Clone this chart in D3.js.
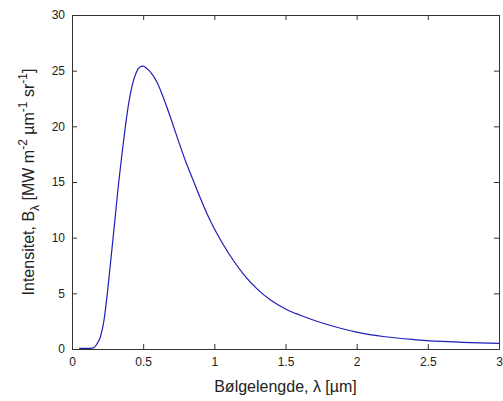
<!DOCTYPE html>
<html>
<head>
<meta charset="utf-8">
<style>
body{margin:0;background:#fff;}
svg{display:block;}
.tick text{font-family:"Liberation Sans",Arial,sans-serif;font-size:12px;fill:#222;}
.axis path,.axis line{stroke:#333;}
.lbl{font-family:"Liberation Sans",Arial,sans-serif;font-size:16px;fill:#222;}
</style>
</head>
<body>
<svg id="svg"></svg>
<script src="https://cdnjs.cloudflare.com/ajax/libs/d3/7.8.5/d3.min.js"></script>
<script>
// wavelength in um
var lambda = [0.05,0.1,0.15,0.175,0.2,0.225,0.25,0.275,0.3,0.325,0.35,0.375,0.4,0.425,0.45,0.475,0.5,0.525,0.55,0.6,0.65,0.7,0.75,0.8,0.85,0.9,0.95,1.0,1.1,1.2,1.3,1.4,1.5,1.6,1.7,1.8,1.9,2.0,2.2,2.4,2.6,2.8,3.0]
// intensity B_lambda [MW m-2 um-1 sr-1]
var intensity = [0.05,0.05,0.1,0.45,1.1,2.6,5.2,8.3,11.4,14.6,17.4,20.0,22.2,23.8,24.8,25.3,25.4,25.2,24.9,23.9,22.3,20.5,18.6,16.8,15.2,13.6,12.1,10.8,8.6,6.8,5.4,4.35,3.6,3.05,2.58,2.18,1.82,1.52,1.1,0.85,0.68,0.57,0.5]
var xTicks = [0,0.5,1,1.5,2,2.5,3]
var yTicks = [0,5,10,15,20,25,30]

var W = 503, H = 401
var margin = {top:15, right:4, bottom:52, left:72}
var width = W - margin.left - margin.right,
    height = H - margin.top - margin.bottom

var svg = d3.select('#svg').attr('width',W).attr('height',H)
var g = svg.append('g').attr('transform','translate('+margin.left+','+margin.top+')')

var x = d3.scaleLinear().domain([0,3]).range([0,width])
var y = d3.scaleLinear().domain([0,30]).range([height,0])

// box with inward ticks on all four sides
g.append('g').attr('class','axis').attr('transform','translate(0,'+height+')')
  .call(d3.axisBottom(x).tickValues(xTicks).tickFormat(d3.format('')).tickSizeInner(-5).tickSizeOuter(0).tickPadding(8))
g.append('g').attr('class','axis')
  .call(d3.axisLeft(y).tickValues(yTicks).tickSizeInner(-5).tickSizeOuter(0).tickPadding(7))
g.append('g').attr('class','axis')
  .call(d3.axisTop(x).tickValues(xTicks).tickFormat('').tickSizeInner(-5).tickSizeOuter(0))
g.append('g').attr('class','axis').attr('transform','translate('+width+',0)')
  .call(d3.axisRight(y).tickValues(yTicks).tickFormat('').tickSizeInner(-5).tickSizeOuter(0))

var pts = lambda.map(function(d,i){ return [d, intensity[i]] })
var line = d3.line()
  .x(function(d){ return x(d[0]) })
  .y(function(d){ return y(d[1]) })
  .curve(d3.curveMonotoneX)
g.append('path').datum(pts)
  .attr('d',line)
  .attr('fill','none')
  .attr('stroke','#1f1fb8')
  .attr('stroke-width',1.2)

// x label
svg.append('text').attr('class','lbl')
  .attr('x',margin.left+width/2).attr('y',392)
  .attr('text-anchor','middle')
  .text('Bølgelengde, λ [µm]')

// y label with sub/superscripts
var yl = svg.append('text').attr('class','lbl')
  .attr('text-anchor','middle')
  .attr('transform','translate(34,'+(margin.top+height/2)+') rotate(-90)')
yl.append('tspan').text('Intensitet, B')
yl.append('tspan').attr('dy',5).style('font-size','12px').text('λ')
yl.append('tspan').attr('dy',-5).text(' [MW m')
yl.append('tspan').attr('dy',-7).style('font-size','12px').text('-2')
yl.append('tspan').attr('dy',7).text(' µm')
yl.append('tspan').attr('dy',-7).style('font-size','12px').text('-1')
yl.append('tspan').attr('dy',7).text(' sr')
yl.append('tspan').attr('dy',-7).style('font-size','12px').text('-1')
yl.append('tspan').attr('dy',7).text(']')
</script>
</body>
</html>
